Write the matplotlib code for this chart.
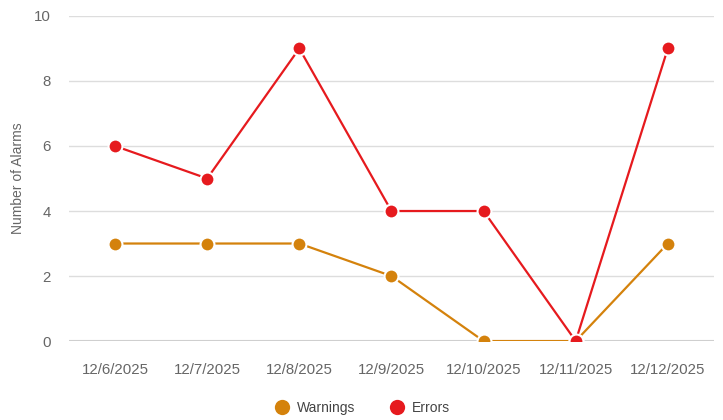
import matplotlib.pyplot as plt

dates = ['12/6/2025', '12/7/2025', '12/8/2025', '12/9/2025',
         '12/10/2025', '12/11/2025', '12/12/2025']
warnings = [3, 3, 3, 2, 0, 0, 3]
errors = [6, 5, 9, 4, 4, 0, 9]


def main():
    plt.rcParams['font.family'] = ['Liberation Sans', 'DejaVu Sans']
    fig = plt.figure(figsize=(7.23, 4.2), dpi=100)
    ax = fig.add_axes([0.0954, 0.188, 0.892, 0.774])

    x = list(range(len(dates)))
    ax.plot(x, warnings, color='#d4820c', lw=1.6, marker='o', ms=10,
            mec='white', mew=1.5, label='Warnings', zorder=3)
    ax.plot(x, errors, color='#e61a1e', lw=1.6, marker='o', ms=10,
            mec='white', mew=1.5, label='Errors', zorder=4)

    ax.set_xlim(-0.5, len(dates) - 0.5)
    ax.set_ylim(0, 10)
    ax.set_yticks([0, 2, 4, 6, 8, 10])
    ax.set_xticks(x)
    ax.set_xticklabels(dates)
    ax.tick_params(length=0, labelsize=10.8, labelcolor='#666666')
    ax.tick_params(axis='x', pad=16)
    ax.tick_params(axis='y', pad=13)

    ax.grid(axis='y', color='#dddddd', lw=1)
    ax.axhline(0, color='#cccccc', lw=1.5, zorder=1)
    for s in ax.spines.values():
        s.set_visible(False)
    ax.set_ylabel('Number of Alarms', fontsize=10, color='#666666')
    ax.yaxis.set_label_coords(-0.068, 0.5)

    leg = ax.legend(loc='upper center', bbox_to_anchor=(0.455, -0.145), ncol=2,
                    frameon=False, fontsize=10, handlelength=1, handletextpad=0.6,
                    columnspacing=2.5, markerscale=1.1)
    for h in leg.legend_handles:
        h.set_linestyle('none')
        h.set_markeredgecolor('none')
    for t in leg.get_texts():
        t.set_color('#444444')

    fig.savefig('out.png', dpi=100)


if __name__ == "__main__":
    main()
